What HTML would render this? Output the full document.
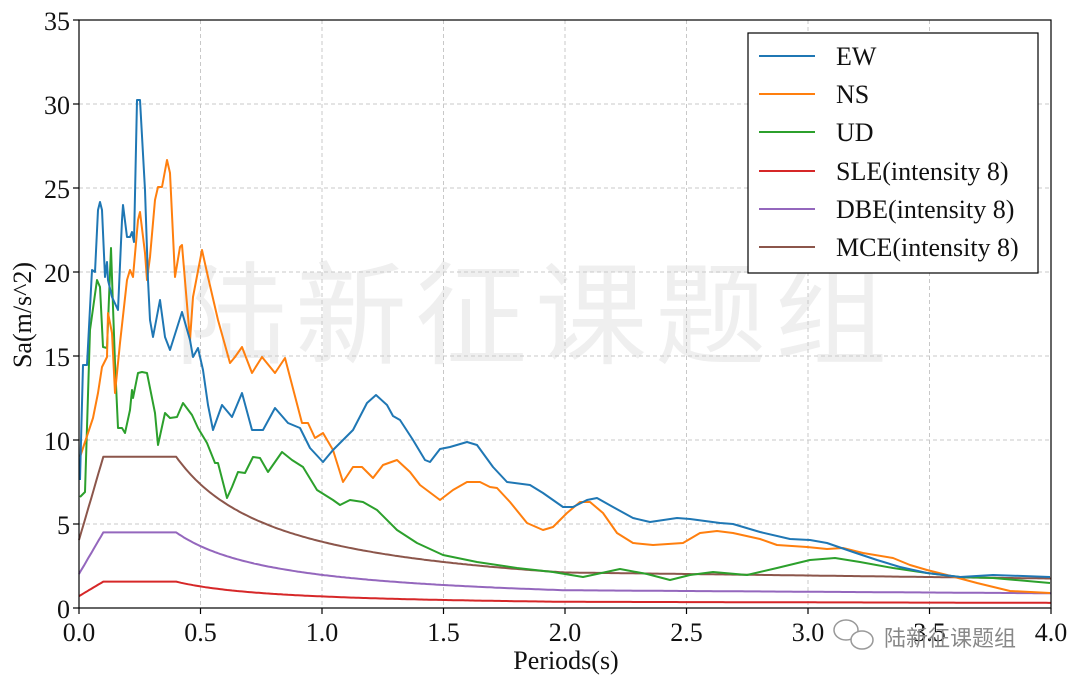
<!DOCTYPE html>
<html><head><meta charset="utf-8"><style>
html,body{margin:0;padding:0;background:#fff;}
svg{display:block;font-family:"Liberation Serif","Noto Serif CJK SC",serif;}
</style></head><body>
<svg id="s" width="1080" height="686" viewBox="0 0 1080 686" xmlns="http://www.w3.org/2000/svg">
<rect width="1080" height="686" fill="#fff"/>
<text x="535" y="355" font-family="Noto Sans CJK SC, sans-serif" font-size="112" fill="#efefef" text-anchor="middle" letter-spacing="8">陆新征课题组</text>
<g stroke="#c8c8c8" stroke-width="1" stroke-dasharray="4,3">
<line x1="200.5" y1="20" x2="200.5" y2="608"/><line x1="322" y1="20" x2="322" y2="608"/><line x1="443.5" y1="20" x2="443.5" y2="608"/><line x1="565" y1="20" x2="565" y2="608"/><line x1="686.5" y1="20" x2="686.5" y2="608"/><line x1="808" y1="20" x2="808" y2="608"/><line x1="929.5" y1="20" x2="929.5" y2="608"/>
<line x1="79" y1="524" x2="1051" y2="524"/><line x1="79" y1="440" x2="1051" y2="440"/><line x1="79" y1="356" x2="1051" y2="356"/><line x1="79" y1="272" x2="1051" y2="272"/><line x1="79" y1="188" x2="1051" y2="188"/><line x1="79" y1="104" x2="1051" y2="104"/>
</g>
<g fill="none" stroke-width="2" stroke-linejoin="round">
<path id="sle" stroke="#d62728"/>
<path id="dbe" stroke="#9467bd"/>
<path id="mce" stroke="#8c564b"/>
<polyline stroke="#2ca02c" points="80,497 85,492 90,330 97,280 100,287 103,347 107,348 111,248 113,307 115,363 118,428 122,428 125,433 130,410 132,390 133,398 138,373 142,372 147,373 155,413 158,445 165,413 170,418 177,417 183,403 192,415 198,428 207,443 215,463 218,463 227,498 232,487 238,472 245,473 253,457 260,458 268,472 282,452 292,460 303,467 317,490 333,500 340,505 350,500 363,502 377,510 397,530 417,543 443,555 477,562 517,568 553,572 583,577 620,569 647,574 670,580 690,575 713,572 747,575 777,568 810,560 835,558 860,562 893,568 927,573 960,577 993,578 1050,583"/>
<polyline stroke="#ff7f0e" points="80,457 88,433 93,418 98,393 102,367 107,357 108,313 112,333 115,393 120,343 127,280 130,270 133,277 138,220 140,212 145,253 147,280 150,257 155,200 158,187 162,187 167,160 170,173 175,277 180,247 182,245 190,340 193,297 202,250 208,277 218,320 230,363 235,357 242,347 252,373 262,357 275,373 285,358 302,423 308,423 315,438 323,433 333,450 343,482 353,467 362,467 373,478 383,465 397,460 410,472 420,485 440,500 453,490 467,482 480,482 490,487 497,488 510,502 527,523 543,530 553,527 567,513 580,502 590,502 603,513 617,533 633,543 653,545 683,543 700,533 717,531 733,533 760,539 777,545 807,547 827,549 843,548 863,553 893,558 910,565 927,570 947,575 977,583 1010,591 1050,593"/>
<polyline stroke="#1f77b4" points="80,480 83,365 87,365 92,270 95,272 98,210 100,202 102,210 105,277 107,262 108,280 112,297 118,310 122,220 123,205 127,237 130,237 132,232 134,242 137,100 140,100 145,190 148,280 150,320 153,337 160,300 165,337 170,350 182,312 190,340 193,357 198,348 203,370 208,405 213,430 222,405 232,417 242,393 252,430 263,430 275,408 288,423 300,428 310,448 323,462 333,450 353,430 367,403 376,395 387,405 393,416 400,420 413,440 425,460 430,462 440,449 450,447 467,442 477,445 493,467 507,482 530,485 543,493 563,507 573,507 587,500 597,498 613,507 633,518 650,522 677,518 690,519 720,523 733,524 760,532 790,539 810,540 827,543 853,552 877,560 900,567 927,573 960,577 993,575 1050,577"/>
</g>
<rect x="79" y="20" width="972" height="588" fill="none" stroke="#000" stroke-width="1.2"/>
<g stroke="#000" stroke-width="1.2">
<line x1="79" y1="608" x2="79" y2="614"/><line x1="200.5" y1="608" x2="200.5" y2="614"/><line x1="322" y1="608" x2="322" y2="614"/><line x1="443.5" y1="608" x2="443.5" y2="614"/><line x1="565" y1="608" x2="565" y2="614"/><line x1="686.5" y1="608" x2="686.5" y2="614"/><line x1="808" y1="608" x2="808" y2="614"/><line x1="929.5" y1="608" x2="929.5" y2="614"/><line x1="1051" y1="608" x2="1051" y2="614"/>
<line x1="73" y1="608" x2="79" y2="608"/><line x1="73" y1="524" x2="79" y2="524"/><line x1="73" y1="440" x2="79" y2="440"/><line x1="73" y1="356" x2="79" y2="356"/><line x1="73" y1="272" x2="79" y2="272"/><line x1="73" y1="188" x2="79" y2="188"/><line x1="73" y1="104" x2="79" y2="104"/><line x1="73" y1="20" x2="79" y2="20"/>
</g>
<g font-size="26" fill="#111" text-anchor="end">
<text x="70" y="618">0</text><text x="70" y="534">5</text><text x="70" y="450">10</text><text x="70" y="366">15</text><text x="70" y="282">20</text><text x="70" y="198">25</text><text x="70" y="114">30</text><text x="70" y="30">35</text>
</g>
<g font-size="26" fill="#111" text-anchor="middle">
<text x="79" y="641">0.0</text><text x="200.5" y="641">0.5</text><text x="322" y="641">1.0</text><text x="443.5" y="641">1.5</text><text x="565" y="641">2.0</text><text x="686.5" y="641">2.5</text><text x="808" y="641">3.0</text><text x="929.5" y="641">3.5</text><text x="1051" y="641">4.0</text>
<text x="566" y="669">Periods(s)</text>
<text transform="translate(31,315) rotate(-90)">Sa(m/s^2)</text>
</g>
<rect x="748" y="33" width="290" height="240" fill="#fff" stroke="#000" stroke-width="1.2"/>
<g stroke-width="2">
<line x1="759" y1="56" x2="815" y2="56" stroke="#1f77b4"/>
<line x1="759" y1="94" x2="815" y2="94" stroke="#ff7f0e"/>
<line x1="759" y1="132" x2="815" y2="132" stroke="#2ca02c"/>
<line x1="759" y1="171" x2="815" y2="171" stroke="#d62728"/>
<line x1="759" y1="209" x2="815" y2="209" stroke="#9467bd"/>
<line x1="759" y1="247" x2="815" y2="247" stroke="#8c564b"/>
</g>
<g font-size="26" fill="#111">
<text x="836" y="65">EW</text><text x="836" y="103">NS</text><text x="836" y="141">UD</text>
<text x="836" y="180">SLE(intensity 8)</text><text x="836" y="218">DBE(intensity 8)</text><text x="836" y="256">MCE(intensity 8)</text>
</g>
<g fill="#fff" stroke="#999" stroke-width="1.5">
<ellipse cx="846" cy="630" rx="12" ry="10"/><ellipse cx="862" cy="640" rx="11" ry="9"/>
</g>
<text x="884" y="646" font-family="Noto Sans CJK SC, sans-serif" font-size="22" fill="#888">陆新征课题组</text>
<script>
function X(t){return 79+243*t;}function Y(v){return 608-16.8*v;}
function sp(a){var d="";for(var t=0;t<=4.0001;t+=0.01){var v;
if(t<0.1)v=0.45*a+(a-0.45*a)*t/0.1;else if(t<=0.4)v=a;else if(t<=2.0)v=a*Math.pow(0.4/t,0.9);else v=a*(Math.pow(0.2,0.9)-0.02*(t-2.0));
d+=(d?"L":"M")+X(t).toFixed(1)+","+Y(v).toFixed(1);}return d;}
document.getElementById("sle").setAttribute("d",sp(1.57));
document.getElementById("dbe").setAttribute("d",sp(4.5));
document.getElementById("mce").setAttribute("d",sp(9.0));
</script>
</svg>
</body></html>
